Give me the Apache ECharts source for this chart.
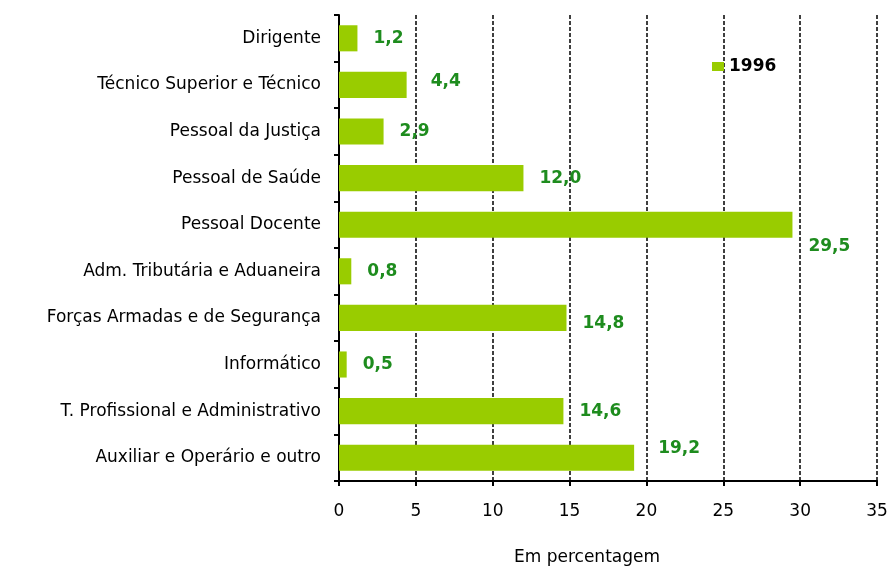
<!DOCTYPE html>
<html>
<head>
<meta charset="utf-8">
<script src="https://cdn.jsdelivr.net/npm/echarts@6/dist/echarts.min.js"></script>
<style>
  html, body { margin: 0; padding: 0; background: #fff; }
  #chart { width: 892px; height: 567px; }
</style>
</head>
<body>
<div id="chart"></div>
<script>
// categorias de cima para baixo
var categories = [
  "Dirigente",
  "Técnico Superior e Técnico",
  "Pessoal da Justiça",
  "Pessoal de Saúde",
  "Pessoal Docente",
  "Adm. Tributária e Aduaneira",
  "Forças Armadas e de Segurança",
  "Informático",
  "T. Profissional e Administrativo",
  "Auxiliar e Operário e outro"
];
var values1996 = [1.2, 4.4, 2.9, 12.0, 29.5, 0.8, 14.8, 0.5, 14.6, 19.2];
var xTicks = [0, 5, 10, 15, 20, 25, 30, 35];

// deslocamentos das etiquetas (como no Excel, não são todos iguais)
var labelShift = {
  1: [8, -3],
  4: [0, 22],
  6: [0, 6],
  9: [8, -9]
};

var myChart = echarts.init(document.getElementById("chart"));

var seriesData = values1996.map(function (v, i) {
  var item = { value: v };
  if (labelShift[i]) {
    item.label = { offset: labelShift[i] };
  }
  return item;
});

var option = {
  animation: false,
  backgroundColor: "#fff",
  textStyle: { fontFamily: "DejaVu Sans, Arial, sans-serif" },
  grid: { left: 339, right: 15, top: 15, bottom: 86, outerBoundsMode: "none" },
  legend: {
    data: ["1996"],
    left: 707,
    top: 53,
    icon: "rect",
    itemWidth: 12,
    itemHeight: 9,
    itemGap: 4,
    textStyle: { fontSize: 17, fontWeight: "bold", color: "#000" }
  },
  xAxis: {
    type: "value",
    min: xTicks[0],
    max: xTicks[xTicks.length - 1],
    interval: 5,
    name: "Em percentagem",
    nameLocation: "middle",
    nameGap: 68,
    nameTextStyle: { fontSize: 17, color: "#000", padding: [0, 42, 0, 0] },
    axisLine: { show: true, lineStyle: { color: "#000", width: 2 } },
    axisTick: { show: true, length: 5, lineStyle: { color: "#000", width: 2 } },
    axisLabel: { fontSize: 17, color: "#000", margin: 22 },
    splitLine: { show: true, lineStyle: { color: "#000", type: [4, 2], width: 1.5 } }
  },
  yAxis: {
    type: "category",
    data: categories,
    inverse: true,
    axisLine: { show: true, lineStyle: { color: "#000", width: 2 } },
    axisTick: { show: true, length: 5, lineStyle: { color: "#000", width: 2 } },
    axisLabel: { fontSize: 17, color: "#000", margin: 18 },
    splitLine: { show: false }
  },
  series: [
    {
      name: "1996",
      type: "bar",
      data: seriesData,
      barCategoryGap: "44%",
      itemStyle: { color: "#99cc00" },
      label: {
        show: true,
        position: "right",
        distance: 16,
        color: "#1e8c1e",
        fontWeight: "bold",
        fontSize: 17,
        formatter: function (p) {
          return p.value.toFixed(1).replace(".", ",");
        }
      }
    }
  ]
};

myChart.setOption(option);
</script>
</body>
</html>
